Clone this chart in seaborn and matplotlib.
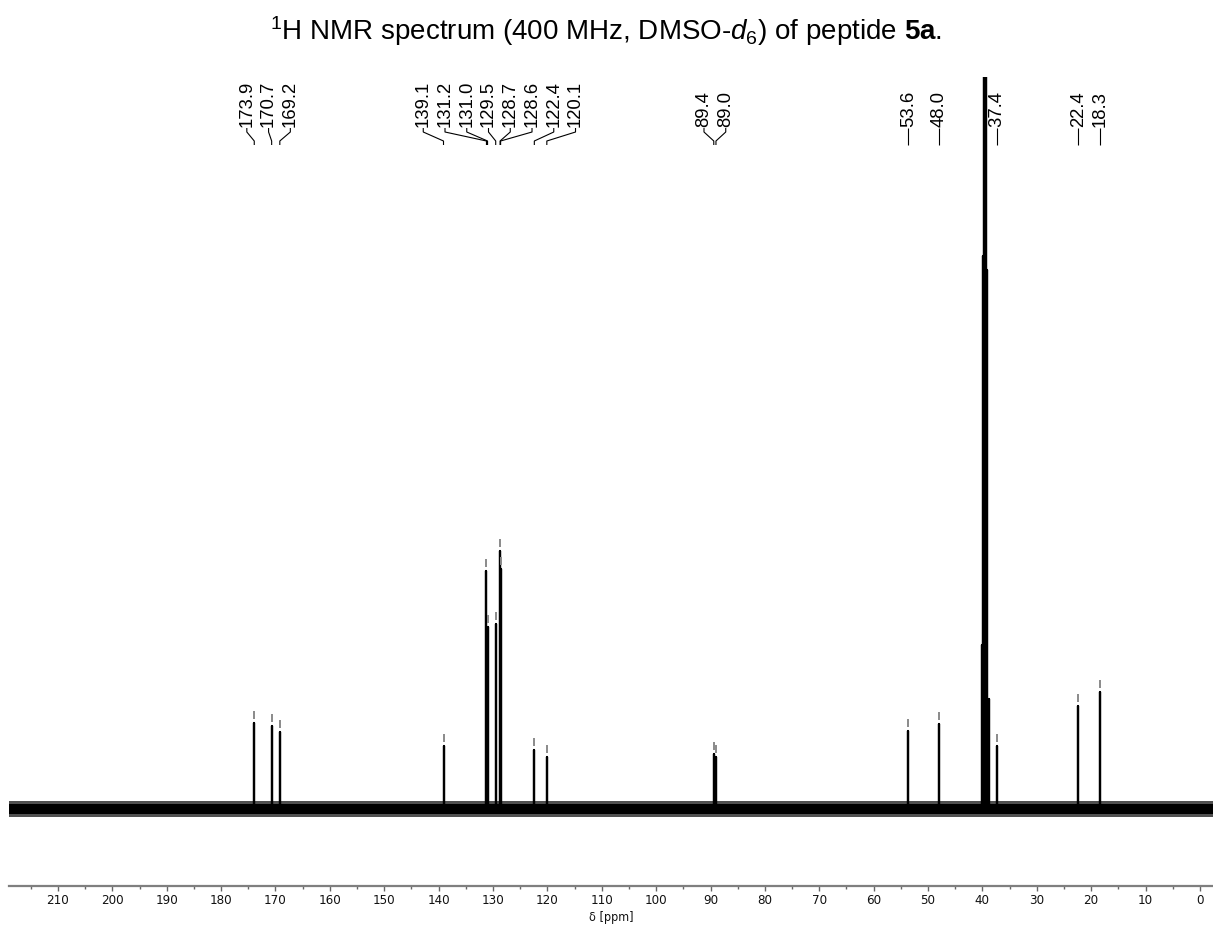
import numpy as np
import pandas as pd
import matplotlib
matplotlib.use("Agg")
import matplotlib.pyplot as plt
from matplotlib.ticker import MultipleLocator, FixedLocator
import seaborn as sns

# ---- data ----
peak_ppm = [173.9, 170.7, 169.2, 139.1, 131.2, 131.0, 129.5, 128.7, 128.6,
            122.4, 120.1, 89.4, 89.0, 53.6, 48.0, 37.4, 22.4, 18.3]
peak_int = [86, 83, 77, 63, 238, 182, 185, 258, 240,
            59, 52, 55, 52, 78, 85, 63, 103, 117]
solvent_ppm = [40.13, 39.92, 39.71, 39.50, 39.29, 39.08, 38.87]
solvent_int = [164, 553, 1000, 1200, 1000, 539, 110]
tick_values = list(range(0, 211, 10))
title_text = r"$^{1}$H NMR spectrum (400 MHz, DMSO-$d_{6}$) of peptide $\mathbf{5a}$."
x_label = "δ [ppm]"

# ---- style ----
sns.set_theme(style="white")
plt.rcParams["font.family"] = ["Liberation Sans", "DejaVu Sans"]
plt.rcParams["text.color"] = "black"
plt.rcParams["mathtext.fontset"] = "custom"
plt.rcParams["mathtext.rm"] = "Liberation Sans"
plt.rcParams["mathtext.it"] = "Liberation Sans:italic"
plt.rcParams["mathtext.bf"] = "Liberation Sans:bold"

W, H = 1213, 925
fig = plt.figure(figsize=(W / 100, H / 100), dpi=100)
ax_bottom_px, ax_top_px = 886, 77
ax = fig.add_axes([9 / W, (H - ax_bottom_px) / H, (W - 9) / W, (ax_bottom_px - ax_top_px) / H])
baseline_px = 809
ax.set_xlim(219.0, -2.4)
ax.set_ylim(-(ax_bottom_px - baseline_px), baseline_px - ax_top_px)

# baseline noise band
ax.fill_between([219.0, -2.4], -8, 8, color="#505050", lw=0, zorder=1)
ax.fill_between([219.0, -2.4], -5, 5, color="black", lw=0, zorder=1)

# stick spectrum built from the peak lists
xs, ys = [], []
for p, h in sorted(zip(peak_ppm + solvent_ppm, peak_int + solvent_int), reverse=True):
    xs += [p, p, p]
    ys += [0, h, 0]
df = pd.DataFrame({"ppm": xs, "intensity": ys})
sns.lineplot(data=df, x="ppm", y="intensity", sort=False, estimator=None,
             color="black", lw=1.6, ax=ax, zorder=3)

# peak-pick markers
ax.vlines(peak_ppm, np.array(peak_int) + 4, np.array(peak_int) + 12,
          color="#8a8a8a", lw=1.4, zorder=4)

# peak labels with connectors (labels spread to avoid overlap)
spacing = 4.0  # ppm between adjacent labels
groups = [[p] for p in sorted(peak_ppm, reverse=True)]


def label_pos(g):
    c = np.mean(g)
    n = len(g)
    return [c + spacing * ((n - 1) / 2 - i) for i in range(n)]


changed = True
while changed:
    changed = False
    for i in range(len(groups) - 1):
        a, b = label_pos(groups[i]), label_pos(groups[i + 1])
        if a[-1] - b[0] < spacing - 1e-9:
            groups[i] = groups[i] + groups[i + 1]
            del groups[i + 1]
            changed = True
            break

y_text = baseline_px - 128
y_bend1 = baseline_px - 132
y_bend2 = baseline_px - 141
y_end = baseline_px - 145
for g in groups:
    for p, lp in zip(g, label_pos(g)):
        ax.plot([lp, lp, p, p], [y_text, y_bend1, y_bend2, y_end],
                color="black", lw=0.8, solid_capstyle="butt", zorder=5)
        ax.text(lp, y_text + 1, f"{p:.1f}", rotation=90, ha="center", va="bottom",
                fontsize=13.3, color="black", zorder=5)

# axis styling
for s in ["top", "left", "right"]:
    ax.spines[s].set_visible(False)
ax.spines["bottom"].set_color("#7f7f7f")
ax.spines["bottom"].set_linewidth(1.6)
ax.set_yticks([])
ax.xaxis.set_major_locator(FixedLocator(tick_values))
ax.xaxis.set_minor_locator(MultipleLocator(5))
ax.tick_params(axis="x", which="major", direction="out", length=3.5, width=1,
               color="#666666", pad=2.5, labelsize=9.5, labelcolor="#111111", bottom=True)
ax.tick_params(axis="x", which="minor", direction="out", length=2.2, width=1,
               color="#666666", bottom=True)
for lab in ax.get_xticklabels():
    lab.set_fontfamily("DejaVu Sans")
    lab.set_fontstretch("condensed")
ax.set_xlabel("")
ax.set_ylabel("")
x_mid = (9 + W) / 2 / W
fig.text(x_mid, 0.5 / H, x_label, ha="center", va="bottom", fontsize=9,
         family="DejaVu Sans", fontstretch="condensed", color="#111111")

fig.text(0.5, 1 - 31 / H, title_text, ha="center", va="center", fontsize=20, color="black")

fig.savefig("out.png", dpi=100)
